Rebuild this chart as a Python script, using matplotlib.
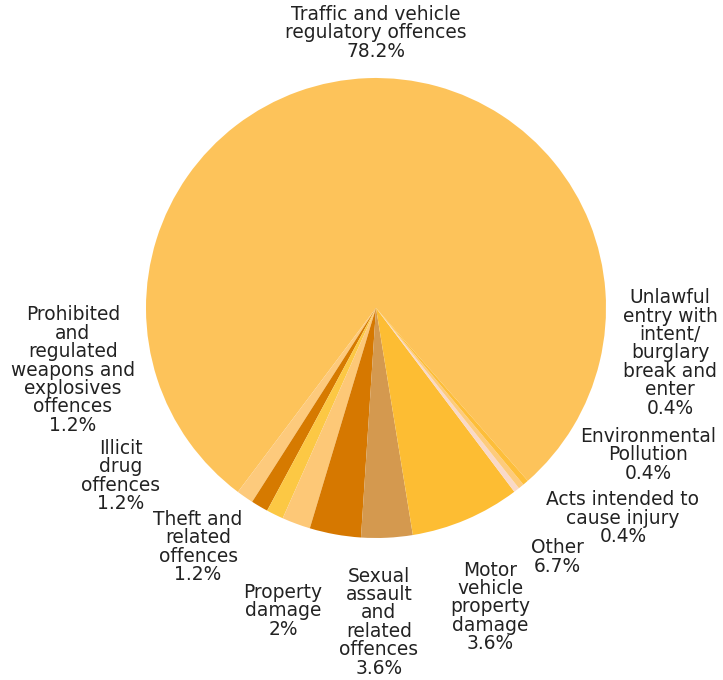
import matplotlib
matplotlib.use("Agg")
import matplotlib.pyplot as plt

# Data (order: counterclockwise from the right edge of the big slice)
categories = [
    "Traffic and vehicle\nregulatory offences",
    "Prohibited\nand\nregulated\nweapons and\nexplosives\noffences",
    "Illicit\ndrug\noffences",
    "Theft and\nrelated\noffences",
    "Property\ndamage",
    "Sexual\nassault\nand\nrelated\noffences",
    "Motor\nvehicle\nproperty\ndamage",
    "Other",
    "Acts intended to\ncause injury",
    "Environmental\nPollution",
    "Unlawful\nentry with\nintent/\nburglary\nbreak and\nenter",
]
# slice shares (percent)
shares = [78.2, 1.2, 1.2, 1.2, 2.0, 3.6, 3.6, 7.7, 0.4, 0.4, 0.4]
# percentage labels as printed on the chart
pct_labels = ["78.2%", "1.2%", "1.2%", "1.2%", "2%", "3.6%", "3.6%",
              "6.7%", "0.4%", "0.4%", "0.4%"]
colors = ["#FDC35A", "#FDCA7C", "#D67A00", "#FCC844", "#FDC877",
          "#D67800", "#D4994F", "#FDBD33", "#F9D9C8", "#FDCB7C", "#FDBE3A"]

# label layout (pixel positions of label block centres)
label_pos = [(376, 31), (73, 368), (121, 474), (198, 545), (283, 609),
             (379, 620), (490, 605), (557, 555), (623, 516), (648, 453),
             (670, 351)]
LINE_H = 18.4

W, H = 723, 680
fig = plt.figure(figsize=(W / 100, H / 100), dpi=100)
ax = fig.add_axes([0, 0, 1, 1])

ax.pie(shares, colors=colors, startangle=311.3, counterclock=True,
       center=(376, H - 308), radius=230,
       wedgeprops=dict(linewidth=0))
ax.set_xlim(0, W)
ax.set_ylim(0, H)
ax.set_aspect("equal")
ax.axis("off")

for cat, pct, (x, y) in zip(categories, pct_labels, label_pos):
    lines = cat.split("\n") + [pct]
    n = len(lines)
    for i, line in enumerate(lines):
        ly = y + (i - (n - 1) / 2) * LINE_H
        ax.text(x, H - ly, line, ha="center", va="center_baseline",
                fontsize=13.4, family="DejaVu Sans", color="#222222")

fig.savefig("out.png", dpi=100)
